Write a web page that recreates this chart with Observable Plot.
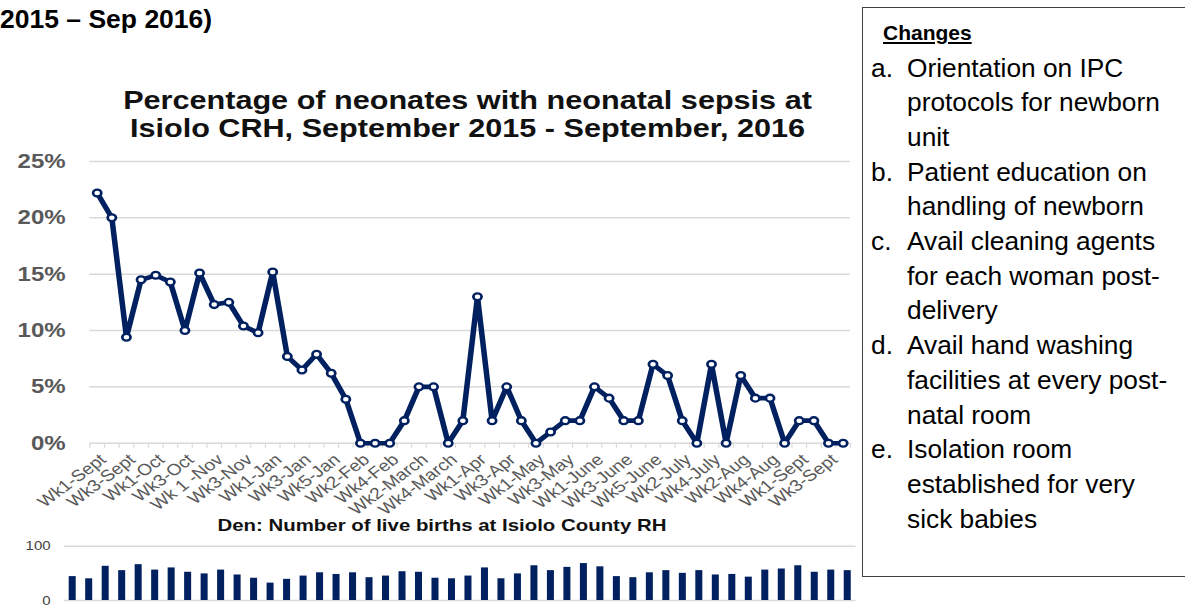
<!DOCTYPE html>
<html><head><meta charset="utf-8">
<script src="https://cdn.jsdelivr.net/npm/d3@7"></script>
<script src="https://cdn.jsdelivr.net/npm/@observablehq/plot@0.6"></script>
<style>
html,body{margin:0;padding:0;background:#fff;width:1185px;height:608px;overflow:hidden;font-family:"Liberation Sans",Arial,sans-serif;color:#000;}
.abs{position:absolute;white-space:nowrap;}
#stretch{position:absolute;left:0;top:0;width:740px;height:608px;transform:scaleX(1.2);transform-origin:0 0;}
#heading{left:0;top:5.5px;font-size:26.5px;line-height:26.5px;font-weight:bold;}
#title{left:19.6px;width:740px;top:87.2px;font-size:25.5px;line-height:27.5px;font-weight:bold;text-align:center;color:#111;}
#bartitle{left:68.3px;width:600px;top:516.6px;font-size:17px;line-height:17px;font-weight:bold;text-align:center;color:#111;}
#box{position:absolute;left:862px;top:7px;width:400px;height:570px;border:1px solid #404040;box-sizing:border-box;background:#fff;z-index:2;}
#changesTitle{left:883px;top:22.2px;font-size:21px;line-height:21px;font-weight:bold;text-decoration:underline;z-index:3;}
.ln{position:absolute;font-size:26.3px;line-height:34.7px;height:34.7px;z-index:3;white-space:nowrap;}
</style></head><body>
<div id="heading" class="abs">2015 – Sep 2016)</div>
<div id="stretch">
  <div id="title" class="abs">Percentage of neonates with neonatal sepsis at<br>Isiolo CRH, September 2015 - September, 2016</div>
  <div id="line" class="abs" style="left:0;top:150px"></div>
  <div id="bartitle" class="abs">Den: Number of live births at Isiolo County RH</div>
  <div id="bars" class="abs" style="left:0;top:540px"></div>
</div>
<div id="box"></div>
<div id="changesTitle" class="abs">Changes</div>
<div id="list"></div>
<script>
const weeks = ["Wk1-Sept","Wk2-Sept","Wk3-Sept","Wk4-Sept","Wk1-Oct","Wk2-Oct","Wk3-Oct","Wk4-Oct","Wk 1 -Nov","Wk2-Nov","Wk3-Nov","Wk4-Nov","Wk1-Jan","Wk2-Jan","Wk3-Jan","Wk4-Jan","Wk5-Jan","Wk1-Feb","Wk2-Feb","Wk3-Feb","Wk4-Feb","Wk1-March","Wk2-March","Wk3-March","Wk4-March","Wk5-March","Wk1-Apr","Wk2-Apr","Wk3-Apr","Wk4-Apr","Wk1-May","Wk2-May","Wk3-May","Wk4-May","Wk1-June","Wk2-June","Wk3-June","Wk4-June","Wk5-June","Wk1-July","Wk2-July","Wk3-July","Wk4-July","Wk1-Aug","Wk2-Aug","Wk3-Aug","Wk4-Aug","Wk5-Aug","Wk1-Sept","Wk2-Sept","Wk3-Sept","Wk4-Sept"];
const sepsisPct = [22.2,20.0,9.4,14.5,14.9,14.3,10.0,15.1,12.3,12.5,10.4,9.8,15.2,7.7,6.5,7.9,6.2,3.9,0,0,0,2.0,5.0,5.0,0,2.0,13.0,2.0,5.0,2.0,0,1.0,2.0,2.0,5.0,4.0,2.0,2.0,7.0,6.0,2.0,0,7.0,0,6.0,4.0,4.0,0,2.0,2.0,0,0];
const yTicks = [0,5,10,15,20,25];
const liveBirths = [44,40,63,55,66,56,60,52,49,56,47,41,32,39,45,51,48,51,42,45,53,52,41,40,45,60,40,49,64,55,61,68,62,44,42,51,55,50,55,47,48,43,56,58,64,52,56,55];
const barTicks = [0,100];
const changesHeading = "Changes";
const changes = [
  ["a.", ["Orientation on IPC","protocols for newborn","unit"]],
  ["b.", ["Patient education on","handling of newborn"]],
  ["c.", ["Avail cleaning agents","for each woman post-","delivery"]],
  ["d.", ["Avail hand washing","facilities at every post-","natal room"]],
  ["e.", ["Isolation room","established for very","sick babies"]]
];

const navy = "#002060";
const font = "Liberation Sans, Arial, sans-serif";

const lineData = weeks.map((w, i) => ({i: i + 1, week: w, pct: sepsisPct[i]}));
const lineChart = Plot.plot({
  width: 740, height: 370,
  marginTop: 11, marginBottom: 77.3, marginLeft: 74.4, marginRight: 31.8,
  style: {fontFamily: font, background: "transparent", maxWidth: "none", overflow: "visible"},
  x: {type: "linear", domain: [0.5, 52.5], axis: null},
  y: {domain: [0, 25], axis: null},
  marks: [
    Plot.gridY(yTicks.filter(d => d > 0), {stroke: "#d9d9d9", strokeOpacity: 1, strokeWidth: 1.5}),
    Plot.ruleY([0], {stroke: "#d9d9d9", strokeWidth: 1.5}),
    Plot.axisY(yTicks, {tickSize: 0, tickPadding: 20.2, tickFormat: d => d + "%", fontSize: 20, fontWeight: "bold", fill: "#595959", label: null}),
    Plot.axisX(d3.range(0.5, 53, 1), {tickSize: 5, stroke: "#d9d9d9", strokeOpacity: 1, tickFormat: () => "", label: null}),
    Plot.axisX(d3.range(1, 53, 2), {tickSize: 0, tickPadding: 14, dx: 5, tickRotate: -42, tickFormat: i => weeks[i - 1], fontSize: 16, fill: "#595959", label: null}),
    Plot.line(lineData, {x: "i", y: "pct", stroke: navy, strokeWidth: 4.6, strokeLinejoin: "round"}),
    Plot.dot(lineData, {x: "i", y: "pct", r: 3.4, fill: "white", stroke: navy, strokeWidth: 2.3})
  ]
});
document.getElementById("line").appendChild(lineChart);

const barData = liveBirths.map((v, i) => ({i: i + 1, v}));
const barChart = Plot.plot({
  width: 740, height: 68,
  marginTop: 5.7, marginBottom: 8, marginLeft: 53.3, marginRight: 27.1,
  style: {fontFamily: font, background: "transparent", maxWidth: "none", overflow: "visible"},
  x: {type: "band", domain: d3.range(1, liveBirths.length + 1), paddingInner: 0.575, paddingOuter: 0.2875, axis: null},
  y: {domain: [0, 100], axis: null},
  marks: [
    Plot.ruleY(barTicks, {stroke: "#d9d9d9", strokeWidth: 1.5}),
    Plot.barY(barData, {x: "i", y: "v", fill: navy}),
    Plot.axisY(barTicks, {tickSize: 0, tickPadding: 11.6, fontSize: 12.5, fill: "#404040", label: null})
  ]
});
document.getElementById("bars").appendChild(barChart);

document.getElementById("changesTitle").textContent = changesHeading;
const list = document.getElementById("list");
let row = 0;
const lh = 34.7, fs = 26.3;
const top0 = 77 - ((lh - 1.117 * fs) / 2 + 0.905 * fs);
changes.forEach(([m, lines]) => {
  lines.forEach((t, k) => {
    if (k === 0) {
      const mk = document.createElement("div");
      mk.className = "ln"; mk.style.left = "871px"; mk.style.top = (top0 + row * lh) + "px";
      mk.textContent = m; list.appendChild(mk);
    }
    const d = document.createElement("div");
    d.className = "ln"; d.style.left = "907px"; d.style.top = (top0 + row * lh) + "px";
    d.textContent = t; list.appendChild(d);
    row++;
  });
});
</script>
</body></html>
